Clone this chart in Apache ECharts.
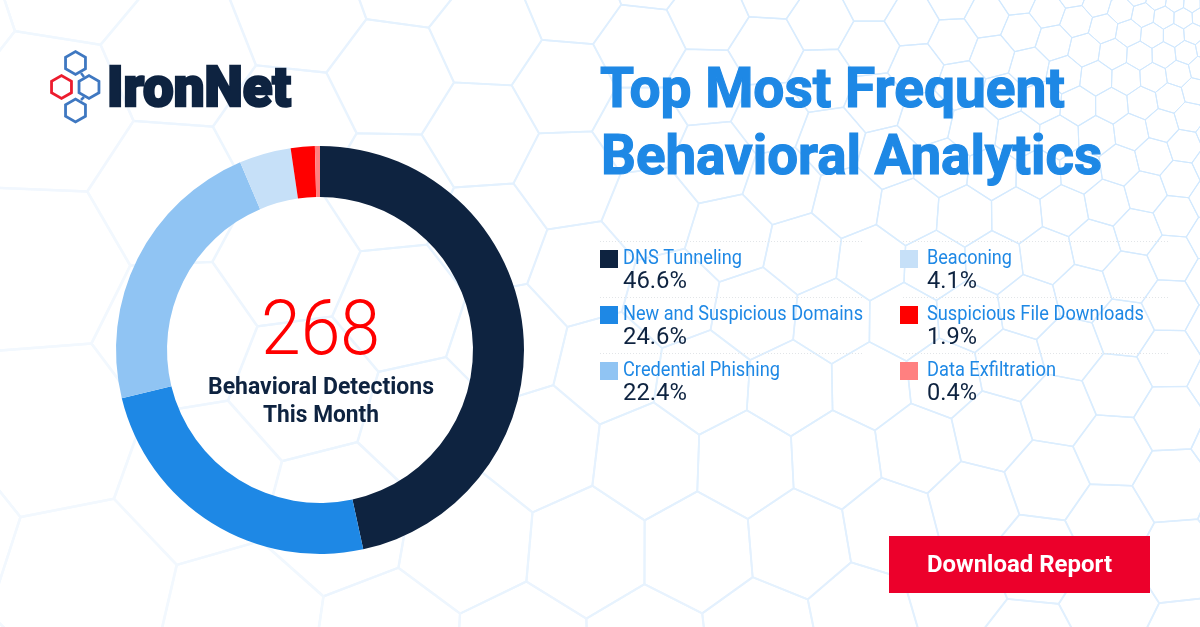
<!DOCTYPE html>
<html>
<head>
<meta charset="utf-8">
<title>Top Most Frequent Behavioral Analytics</title>
<script src="https://cdn.jsdelivr.net/npm/echarts@6/dist/echarts.min.js"></script>
<style>
  html, body { margin: 0; padding: 0; background: #fff; }
  #main { width: 1200px; height: 627px; }
</style>
</head>
<body>
<div id="main"></div>
<script>
// chart values
var categories = ['DNS Tunneling', 'New and Suspicious Domains', 'Credential Phishing', 'Beaconing', 'Suspicious File Downloads', 'Data Exfiltration'];
var percents = [46.6, 24.6, 22.4, 4.1, 1.9, 0.4];
var colors = ['#0e2340', '#1e88e5', '#90c4f3', '#c6e0f8', '#ff0000', '#ff8080'];
var totalDetections = '268';

var NAVY = '#0e2340', BLUE = '#1e88e5';
var measure = document.createElement('canvas').getContext('2d');

// text squeezed to the measured width in the picture (no condensed font here)
function fitText(str, font, x, baseline, width, fill, size, heavy) {
  measure.font = font;
  var style = { text: str, font: font, fill: fill, align: 'left', verticalAlign: 'middle' };
  if (heavy) { style.stroke = fill; style.lineWidth = heavy; }
  return {
    type: 'text', silent: true, x: x, y: baseline - size * 0.255,
    scaleX: width / measure.measureText(str).width,
    style: style
  };
}

// pale warped honeycomb behind everything
function meshElements() {
  var out = [], cx = 1290, cy = -90, s = 0.07, phi = 15 * Math.PI / 180;
  function warp(a, b) {
    var u = a * Math.cos(phi) - b * Math.sin(phi);
    var v = a * Math.sin(phi) + b * Math.cos(phi);
    var r = Math.exp(u);
    return [cx + r * Math.cos(v), cy + r * Math.sin(v), v];
  }
  for (var q = -80; q <= 200; q++) {
    for (var p = -80; p <= 200; p++) {
      var a0 = 1.5 * s * q, b0 = Math.sqrt(3) * s * (p + q / 2);
      var c = warp(a0, b0);
      if (c[2] < 0.8 || c[2] > 3.7) continue; // one turn only
      if (c[0] < -160 || c[0] > 1360 || c[1] < -160 || c[1] > 790) continue;
      var d = Math.hypot(c[0] - cx, c[1] - cy);
      if (d < 90) continue;
      var pts = [];
      for (var i = 0; i < 6; i++) {
        var pt = warp(a0 + s * Math.cos(i * Math.PI / 3), b0 + s * Math.sin(i * Math.PI / 3));
        pts.push([pt[0], pt[1]]);
      }
      var t = Math.min(1, Math.max(0, (d - 250) / 1050));
      var g = Math.round(232 + 16 * t), r = Math.round(208 + 34 * t);
      out.push({
        type: 'polygon', silent: true, shape: { points: pts },
        style: { fill: 'none', stroke: 'rgb(' + r + ',' + g + ',254)', lineWidth: 1 + 1.5 * t }
      });
    }
  }
  return out;
}

function hexagon(x, y, stroke) {
  var pts = [];
  for (var i = 0; i < 6; i++) {
    var ang = Math.PI / 6 + i * Math.PI / 3;
    pts.push([x + 11.5 * Math.cos(ang), y + 11.5 * Math.sin(ang)]);
  }
  return { type: 'polygon', silent: true, shape: { points: pts }, style: { fill: 'none', stroke: stroke, lineWidth: 2.8 } };
}

function link(x1, y1, x2, y2) {
  return { type: 'line', silent: true, shape: { x1: x1, y1: y1, x2: x2, y2: y2 }, style: { stroke: '#3f78c1', lineWidth: 2.5 } };
}

function dotted(x1, x2, y) {
  return { type: 'line', silent: true, shape: { x1: x1, y1: y + 0.5, x2: x2, y2: y + 0.5 }, style: { stroke: '#e2e5e8', lineWidth: 1, lineDash: [1, 2] } };
}

// width of every label
var nameWidths = [119, 240, 157, 85, 217, 129];
var valueWidths = [64, 64, 64, 50, 50, 50];

var elements = meshElements();

// logo
elements.push(
  link(81, 73, 84, 77), link(84, 97, 81, 100),
  hexagon(75.5, 63, '#3f78c1'), hexagon(61.5, 87, '#ec1c2e'),
  hexagon(89, 87, '#3f78c1'), hexagon(75.5, 110.5, '#3f78c1'),
  fitText('IronNet', '900 56px Roboto', 107, 106, 184, NAVY, 56, 2.5)
);

// heading
elements.push(
  fitText('Top Most Frequent', '700 56px Roboto', 600, 107, 465, BLUE, 56, 1.2),
  fitText('Behavioral Analytics', '700 56px Roboto', 601, 174, 501, BLUE, 56, 1.2)
);

// legend, two columns of three
[241, 297, 353].forEach(function (y) {
  elements.push(dotted(600, 864, y), dotted(903, 1168, y));
});
categories.forEach(function (name, i) {
  var col = i < 3 ? 0 : 1, row = i % 3;
  var sx = col ? 900 : 600, tx = col ? 927 : 623, top = 250 + row * 56;
  elements.push({ type: 'rect', silent: true, shape: { x: sx, y: top, width: 18, height: 18 }, style: { fill: colors[i] } });
  elements.push(fitText(name, '400 20px Roboto', tx, top + 14, nameWidths[i], BLUE, 20));
  elements.push(fitText(percents[i].toFixed(1) + '%', '400 24px Roboto', tx, top + 38, valueWidths[i], NAVY, 24));
});

// centre of the ring
elements.push(
  fitText(totalDetections, '300 76px Roboto', 261, 354, 119, '#ff0000', 76),
  fitText('Behavioral Detections', '700 24px Roboto', 208, 394, 226, NAVY, 24),
  fitText('This Month', '700 24px Roboto', 263, 422, 116, NAVY, 24)
);

// button
elements.push(
  { type: 'rect', silent: true, shape: { x: 889, y: 536, width: 261, height: 57 }, style: { fill: '#ec002b' } },
  fitText('Download Report', '700 24px Roboto', 927, 572, 185, '#ffffff', 24)
);

var myChart = echarts.init(document.getElementById('main'));
var option = {
  backgroundColor: '#ffffff',
  animation: false,
  tooltip: { show: false },
  graphic: { elements: elements },
  series: [{
    type: 'pie',
    center: [320, 350],
    radius: [153, 204],
    startAngle: 90,
    clockwise: true,
    silent: true,
    label: { show: false },
    labelLine: { show: false },
    data: categories.map(function (name, i) {
      return { name: name, value: percents[i], itemStyle: { color: colors[i] } };
    })
  }]
};
myChart.setOption(option);
</script>
</body>
</html>
